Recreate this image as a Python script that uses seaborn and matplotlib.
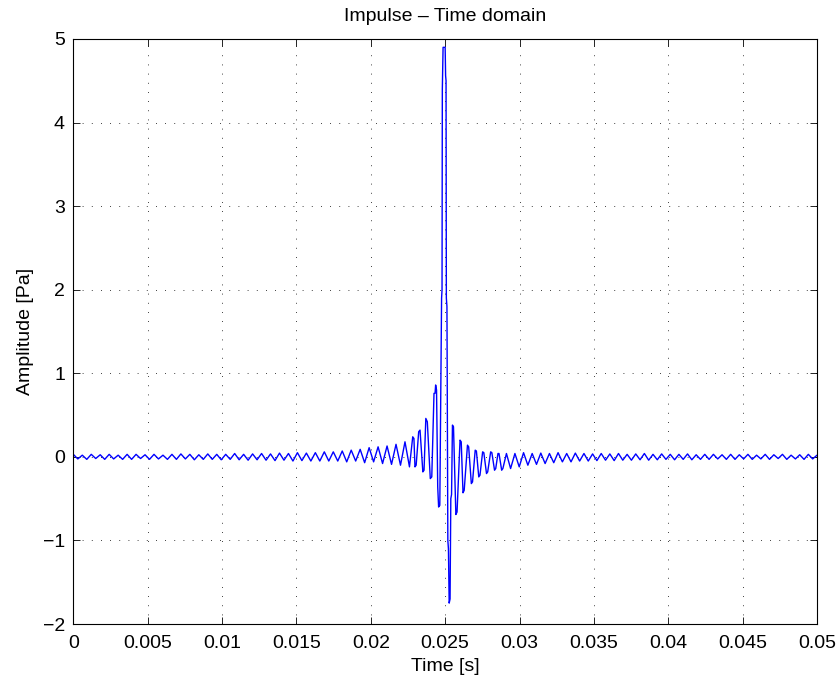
import numpy as np
import pandas as pd
import seaborn as sns
import matplotlib.pyplot as plt

# left tail: alternating peak / trough values (0 .. 0.0226 s)
left_peaks = [0.03, 0.02, 0.03, 0.025, 0.03, 0.02, 0.03, 0.03, 0.025, 0.03, 0.02,
              0.03, 0.035, 0.03, 0.025, 0.035, 0.03, 0.03, 0.04, 0.03, 0.035,
              0.04, 0.035, 0.045, 0.04, 0.05, 0.045, 0.05, 0.06,
              0.06, 0.07, 0.08, 0.09, 0.11, 0.12, 0.13, 0.15, 0.18]
left_troughs = [-0.025, -0.03, -0.02, -0.03, -0.025, -0.03, -0.03, -0.02, -0.03, -0.025, -0.03,
                -0.03, -0.025, -0.035, -0.03, -0.03, -0.035, -0.03, -0.035, -0.04, -0.035,
                -0.04, -0.045, -0.04, -0.05, -0.045, -0.05, -0.05, -0.05,
                -0.05, -0.06, -0.05, -0.07, -0.06, -0.08, -0.09, -0.1, -0.12]

# centre of the impulse: time [s] and amplitude [Pa]
center_t = [0.02282, 0.02290, 0.02297, 0.02305, 0.02322, 0.02331, 0.02350, 0.02358,
            0.02370, 0.02380, 0.02400, 0.02410, 0.02425, 0.02432, 0.02436, 0.02442,
            0.02450, 0.02456, 0.02464, 0.02476, 0.02479, 0.02481, 0.02486, 0.02500,
            0.02503, 0.02506, 0.02508, 0.02512, 0.02518, 0.02522, 0.02527, 0.02533,
            0.02538, 0.02543, 0.02549, 0.02556, 0.02572, 0.02580, 0.02600, 0.02608,
            0.02620, 0.02628, 0.02650, 0.02658, 0.02676, 0.02684, 0.02702, 0.02710,
            0.02726, 0.02734, 0.02752, 0.02760, 0.02778, 0.02786, 0.02806, 0.02814,
            0.02832, 0.02840, 0.02855, 0.02862, 0.02880, 0.02888, 0.02912]
center_v = [0.24, 0.22, -0.12, -0.10, 0.30, 0.32, -0.18, -0.16,
            0.46, 0.42, -0.26, -0.24, 0.76, 0.76, 0.86, 0.80,
            -0.36, -0.60, -0.58, 1.90, 2.00, 4.40, 4.90, 4.90,
            4.56, 4.50, 1.90, 1.80, -1.00, -1.10, -1.75, -1.70,
            -0.50, -0.45, 0.38, 0.36, -0.69, -0.66, 0.20, 0.18,
            -0.43, -0.40, 0.14, 0.12, -0.32, -0.30, 0.08, 0.07,
            -0.24, -0.22, 0.06, 0.05, -0.20, -0.18, 0.06, 0.05,
            -0.16, -0.14, 0.04, 0.04, -0.16, -0.14, 0.04]

# right tail: alternating trough / peak values (0.0294 .. 0.05 s)
right_troughs = [-0.14, -0.12, -0.1, -0.09, -0.08, -0.07, -0.06, -0.06, -0.05, -0.05,
                 -0.045, -0.04, -0.045, -0.04, -0.04, -0.035, -0.04, -0.035, -0.03, -0.035,
                 -0.03, -0.035, -0.03, -0.03, -0.025, -0.03, -0.03, -0.025, -0.03, -0.025,
                 -0.03, -0.02, -0.03, -0.025, -0.03, -0.025]
right_peaks = [0.04, 0.05, 0.04, 0.045, 0.04, 0.05, 0.04, 0.045, 0.04, 0.035,
               0.04, 0.035, 0.04, 0.03, 0.035, 0.04, 0.03, 0.035, 0.03, 0.03,
               0.035, 0.025, 0.03, 0.03, 0.025, 0.03, 0.025, 0.03, 0.02, 0.03,
               0.025, 0.03, 0.02, 0.025, 0.03, 0.02]

# interleave peaks and troughs, sample times evenly spaced within each tail
left_v = np.ravel(np.column_stack([left_peaks, left_troughs]))
left_t = np.linspace(0.0, 0.0226, len(left_v))
right_v = np.ravel(np.column_stack([right_troughs, right_peaks]))
right_t = np.linspace(0.0294, 0.05, len(right_v))

df = pd.DataFrame({
    "t": np.concatenate([left_t, center_t, right_t]),
    "p": np.concatenate([left_v, center_v, right_v]),
})

sns.set_style("ticks")
plt.rcParams["font.family"] = ["Liberation Sans", "DejaVu Sans"]
plt.rcParams["text.color"] = "black"
plt.rcParams["axes.labelcolor"] = "black"

fig = plt.figure(figsize=(8.4, 6.79), dpi=100)
ax = fig.add_axes([0.0873, 0.081, 0.8853, 0.8616])

sns.lineplot(data=df, x="t", y="p", ax=ax, color="blue", linewidth=1.0,
             estimator=None, sort=False)

ax.set_xlim(0, 0.05)
ax.set_ylim(-2, 5)
ax.set_xticks(np.arange(0, 0.0501, 0.005))
ax.set_xticklabels(["0", "0.005", "0.01", "0.015", "0.02", "0.025",
                    "0.03", "0.035", "0.04", "0.045", "0.05"])
ax.set_yticks(range(-2, 6))
ax.grid(True, color="black", linestyle=(0, (1, 10)), linewidth=0.6)
ax.tick_params(direction="in", length=5, width=0.6, top=True, right=True,
               labelsize=14, colors="black")
ax.tick_params(axis="x", pad=8)
ax.tick_params(axis="y", pad=6)
for s in ax.spines.values():
    s.set_visible(True)
    s.set_linewidth(0.8)
    s.set_color("black")

ax.set_title("Impulse \u2013 Time domain", fontsize=14, pad=13, color="black")
ax.set_xlabel("Time [s]", fontsize=14, labelpad=4)
ax.set_ylabel("Amplitude [Pa]", fontsize=14, labelpad=6)

fig.savefig("out.png", dpi=100)
